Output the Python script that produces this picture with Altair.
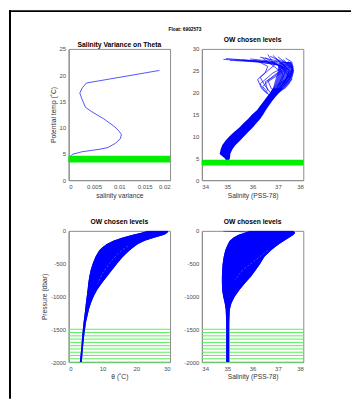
import altair as alt
import pandas as pd

FONT = "Liberation Sans"
BLUE = "#0000ff"
BOX = "#8c8c8c"
LABEL = "#4d4d4d"
GREEN = "#00ee00"
LGREEN = "#5cee5c"

float_title = "Float: 6902573"
tl_title = "Salinity Variance on Theta"

# --- top-left: salinity variance on theta
var_theta = [20.9, 18.5, 17.6, 16.6, 15.5, 13.9, 13.0, 11.7, 10.3, 9.5, 8.7, 7.9, 7.0, 6.2, 5.9, 5.4, 4.9, 4.4]
var_value = [0.0179, 0.0035, 0.0027, 0.0022, 0.0026, 0.0033, 0.0046, 0.0069, 0.0089, 0.0098,
             0.0104, 0.0102, 0.0092, 0.0077, 0.0062, 0.0026, 0.0007, 0.0002]

# chosen levels
green_theta = [3.5, 3.6, 3.7, 3.8, 3.9, 4.0, 4.1, 4.2, 4.3, 4.4, 4.5]
green_pres = [-1500, -1550, -1600, -1650, -1700, -1750, -1800, -1850, -1900, -1950, -2000]

# --- top-right: theta-S envelope of the profiles (lower part)
ts_theta = [3.4, 4.5, 5.0, 6.0, 7.0, 8.0, 9.0, 10.0, 11.0, 12.0, 13.0, 14.0, 15.0, 16.0, 17.0, 18.0, 19.0, 20.0, 21.0]
ts_smin = [34.97, 34.96, 34.9, 34.7, 34.74, 34.8, 34.93, 35.08, 35.27, 35.47, 35.64, 35.82, 35.98, 36.17, 36.3, 36.43, 36.56, 36.69, 36.8]
ts_smax = [35.03, 35.06, 35.11, 35.12, 35.2, 35.32, 35.5, 35.66, 35.83, 36.0, 36.15, 36.3, 36.42, 36.52, 36.64, 36.76, 36.9, 37.05, 37.2]

core_theta = [20.0, 21.0, 22.0, 23.0, 24.0, 25.0, 26.0, 27.0]
core_smin = [36.7, 36.8, 36.85, 36.9, 36.95, 37.0, 37.0, 37.1]
core_smax = [37.05, 37.3, 37.45, 37.55, 37.6, 37.6, 37.58, 37.5]

# upper warm-water profiles (salinity, theta)
fan_s = [
    [34.85, 35.6, 36.5, 37.0, 37.2, 37.0, 36.8],
    [34.95, 36.0, 36.9, 37.3, 37.1, 36.85],
    [35.3, 36.3, 37.1, 37.4, 37.2, 36.9],
    [35.9, 36.7, 37.5, 37.6, 37.3, 36.95],
    [36.6, 36.8, 37.2, 37.55, 37.2, 36.9],
    [36.7, 37.0, 37.5, 37.62, 37.4, 37.0],
    [36.5, 36.9, 36.6, 36.3, 36.5, 36.7],
    [36.9, 37.3, 36.8, 36.3, 36.45, 36.65],
    [37.2, 37.5, 37.0, 36.6, 36.4, 36.6],
    [37.4, 37.6, 37.3, 36.9, 36.75],
    [37.5, 37.6, 37.5, 37.2, 36.9],
    [36.2, 36.6, 36.5, 36.2, 36.35, 36.6],
    [36.8, 37.1, 37.45, 37.3, 37.05, 36.8],
    [37.0, 37.3, 37.55, 37.4, 37.1, 36.9],
    [36.4, 36.8, 37.1, 36.8, 36.5, 36.6],
    [37.3, 37.55, 37.6, 37.5, 37.25, 37.0],
    [35.1, 36.2, 37.0, 37.45, 37.35, 37.0],
    [35.6, 36.5, 37.2, 37.5, 37.1, 36.8],
    [36.3, 37.0, 37.35, 36.9, 36.6, 36.75],
    [36.0, 36.9, 37.4, 37.58, 37.45, 37.1],
]
fan_t = [
    [27.6, 27.4, 27.1, 26.5, 24.0, 21.5, 20.0],
    [27.8, 27.3, 26.8, 25.0, 22.0, 20.0],
    [27.5, 27.0, 26.2, 24.0, 21.5, 20.0],
    [27.7, 27.2, 26.8, 24.5, 22.0, 20.0],
    [28.7, 27.0, 25.5, 23.0, 21.0, 19.8],
    [28.3, 27.5, 26.5, 25.0, 22.5, 20.5],
    [28.0, 26.5, 25.0, 23.5, 21.5, 20.0],
    [27.8, 26.0, 24.5, 22.0, 20.5, 19.5],
    [27.6, 26.0, 24.0, 22.5, 21.4, 20.0],
    [27.2, 25.5, 23.0, 21.5, 20.0],
    [27.0, 26.0, 24.0, 22.0, 20.2],
    [27.2, 26.0, 24.6, 23.0, 21.0, 19.7],
    [28.5, 27.0, 25.0, 23.0, 21.0, 19.8],
    [28.2, 26.8, 25.5, 23.5, 21.5, 20.0],
    [27.9, 26.2, 24.8, 23.5, 22.5, 20.5],
    [27.9, 27.0, 25.0, 23.5, 21.8, 20.3],
    [27.4, 27.0, 26.4, 25.2, 23.0, 20.6],
    [27.5, 27.1, 26.0, 24.0, 22.0, 20.1],
    [28.1, 27.2, 25.8, 24.2, 22.8, 20.8],
    [27.3, 26.9, 26.2, 25.6, 23.2, 20.9],
]

# --- bottom-left: theta vs pressure envelope
bl_pres = [0, -30, -60, -100, -150, -200, -250, -300, -400, -500, -600, -700, -800, -900, -1000,
           -1100, -1200, -1400, -1600, -1800, -2000]
bl_tmin = [23.5, 21.5, 19.0, 16.0, 13.2, 11.3, 10.0, 9.0, 7.9, 7.1, 6.5, 6.1, 5.8, 5.6, 5.35,
           5.1, 4.9, 4.4, 4.0, 3.7, 3.3]
bl_tmax = [29.5, 29.2, 28.3, 25.5, 22.5, 20.5, 19.2, 18.0, 16.0, 14.3, 12.8, 11.3, 9.8, 8.4, 7.4,
           6.6, 6.0, 5.1, 4.6, 4.2, 3.9]
streak_bl_t = [17.5, 14.5, 12.0, 10.0, 8.6]
streak_bl_p = [-230, -350, -500, -650, -800]

# --- bottom-right: salinity vs pressure envelope
br_pres = [0, -30, -60, -100, -150, -200, -250, -300, -400, -500, -600, -700, -800, -900, -1000,
           -1100, -1200, -1400, -1600, -2000]
br_smin = [35.9, 35.7, 35.45, 35.25, 35.1, 35.03, 34.97, 34.92, 34.86, 34.82, 34.8, 34.79, 34.79,
           34.8, 34.84, 34.9, 34.94, 34.96, 34.96, 34.96]
br_smax = [37.6, 37.68, 37.62, 37.45, 37.25, 37.05, 36.88, 36.72, 36.46, 36.3, 36.12, 35.93, 35.7,
           35.48, 35.3, 35.17, 35.1, 35.08, 35.08, 35.08]
fresh_s = [34.85, 35.4, 35.95]
fresh_p = [-3, -10, -22]
streak_br_s = [36.6, 36.1, 35.6, 35.3]
streak_br_p = [-300, -450, -600, -750]

# ticks
x_var_ticks = [0, 0.005, 0.01, 0.015, 0.02]
y_tl_ticks = [0, 5, 10, 15, 20, 25]
x_sal_ticks = [34, 35, 36, 37, 38]
y_tr_ticks = [0, 5, 10, 15, 20, 25, 30]
x_th_ticks = [0, 10, 20, 30]
y_p_ticks = [-2000, -1500, -1000, -500, 0]

W, H = 102, 132


def xaxis(vals, title):
    return alt.Axis(values=vals, title=title, format="~r", labelOverlap=False)


def qx(field, dom, vals, title):
    return alt.X(field, type="quantitative",
                 scale=alt.Scale(domain=dom, nice=False, zero=False), axis=xaxis(vals, title))


def dx(value, dom, vals, title):
    return alt.X(datum=value, type="quantitative",
                 scale=alt.Scale(domain=dom, nice=False, zero=False), axis=xaxis(vals, title))


def qy(field, dom, vals, title, pres=False):
    if pres:
        ax = alt.Axis(values=vals, title=title, labelExpr="'' + datum.value", labelOverlap=False)
    else:
        ax = alt.Axis(values=vals, title=title, format="~r", labelOverlap=False)
    return alt.Y(field, type="quantitative",
                 scale=alt.Scale(domain=dom, nice=False, zero=False), axis=ax)


def ptitle(text):
    return alt.TitleParams(text, font=FONT, fontSize=6.8, fontWeight="bold",
                           color="black", anchor="middle", offset=2)


# ---------- data frames
df_var = pd.DataFrame({"v": var_value, "t": var_theta, "i": range(len(var_value))})
df_gt = pd.DataFrame({"t": green_theta})
df_gp = pd.DataFrame({"p": green_pres})
df_ts = pd.DataFrame({"t": ts_theta, "s1": ts_smin, "s2": ts_smax})
df_core = pd.DataFrame({"t": core_theta, "s1": core_smin, "s2": core_smax})
rows = []
for k, (ss, tt) in enumerate(zip(fan_s, fan_t)):
    for j, (s, t) in enumerate(zip(ss, tt)):
        rows.append({"pid": k, "i": j, "s": s, "t": t})
df_fan = pd.DataFrame(rows)
df_bl = pd.DataFrame({"p": bl_pres, "t1": bl_tmin, "t2": bl_tmax})
df_br = pd.DataFrame({"p": br_pres, "s1": br_smin, "s2": br_smax})
df_fresh = pd.DataFrame({"s": fresh_s, "p": fresh_p, "i": range(len(fresh_s))})
df_sbl = pd.DataFrame({"t": streak_bl_t, "p": streak_bl_p, "i": range(len(streak_bl_t))})
df_sbr = pd.DataFrame({"s": streak_br_s, "p": streak_br_p, "i": range(len(streak_br_s))})
one = pd.DataFrame({"a": [0], "label": [float_title], "tl": [tl_title]})

# ---------- figure frame + suptitle + first panel title (drawn from the first panel)
frame_top = alt.Chart(one).mark_rect(color="black").encode(
    x=alt.value(-60), x2=alt.value(284), y=alt.value(-39), y2=alt.value(-37))
frame_left = alt.Chart(one).mark_rect(color="black").encode(
    x=alt.value(-60), x2=alt.value(-58), y=alt.value(-39), y2=alt.value(352))
sup = alt.Chart(one).mark_text(font=FONT, fontSize=4.8, fontWeight="bold", color="black").encode(
    text="label:N", x=alt.value(117), y=alt.value(-19))
tl_ttl = alt.Chart(one).mark_text(font=FONT, fontSize=6.8, fontWeight="bold", color="black",
                                  baseline="alphabetic").encode(
    text="tl:N", x=alt.value(W / 2), y=alt.value(-2))

# ---------- TL
XV = qx("v", [0, 0.02], x_var_ticks, "salinity variance")
YT1 = qy("t", [0, 25], y_tl_ticks, "Potential temp (˚C)")
tl_line = alt.Chart(df_var).mark_line(color="#2a2aff", strokeWidth=0.8, clip=True).encode(
    x=XV, y=YT1, order="i:Q")
tl_green = alt.Chart(df_gt).mark_rule(color=GREEN, strokeWidth=1.3).encode(
    y=YT1, x=dx(0, [0, 0.02], x_var_ticks, "salinity variance"), x2=alt.X2(datum=0.02))
TL = alt.layer(tl_line, tl_green, frame_top, frame_left, sup, tl_ttl).properties(
    width=W, height=H)

# ---------- TR
XS = qx("s", [34, 38], x_sal_ticks, "Salinity (PSS-78)")
XS1 = qx("s1", [34, 38], x_sal_ticks, "Salinity (PSS-78)")
YT2 = qy("t", [0, 30], y_tr_ticks, "")
tr_band = alt.Chart(df_ts).mark_area(color=BLUE, orient="horizontal", clip=True).encode(
    y=YT2, x=XS1, x2="s2:Q")
tr_core = alt.Chart(df_core).mark_area(color=BLUE, orient="horizontal", opacity=0.7, clip=True).encode(
    y=YT2, x=XS1, x2="s2:Q")
tr_fan = alt.Chart(df_fan).mark_line(color=BLUE, strokeWidth=0.7, clip=True).encode(
    x=XS, y=YT2, detail="pid:N", order="i:Q")
tr_green = alt.Chart(df_gt).mark_rule(color=GREEN, strokeWidth=1.3).encode(
    y=YT2, x=dx(34, [34, 38], x_sal_ticks, "Salinity (PSS-78)"), x2=alt.X2(datum=38))
TR = alt.layer(tr_band, tr_core, tr_fan, tr_green).properties(
    width=W, height=H, title=ptitle("OW chosen levels"))

# ---------- BL
XT1 = qx("t1", [0, 30], x_th_ticks, "θ (˚C)")
XT = qx("t", [0, 30], x_th_ticks, "θ (˚C)")
YP = qy("p", [-2000, 0], y_p_ticks, "Pressure (dbar)", pres=True)
YP2 = qy("p", [-2000, 0], y_p_ticks, "", pres=True)
bl_band = alt.Chart(df_bl).mark_area(color=BLUE, orient="horizontal", clip=True).encode(
    y=YP, x=XT1, x2="t2:Q")
bl_green = alt.Chart(df_gp).mark_rule(color=LGREEN, strokeWidth=1).encode(
    y=YP, x=dx(0, [0, 30], x_th_ticks, "θ (˚C)"), x2=alt.X2(datum=30))
bl_band_top = alt.Chart(df_bl).mark_area(color=BLUE, orient="horizontal", clip=True).encode(
    y=YP, x=XT1, x2="t2:Q")
bl_streak = alt.Chart(df_sbl).mark_line(color="white", strokeWidth=0.6, opacity=0.45,
                                        strokeDash=[2, 2], clip=True).encode(
    x=XT, y=YP, order="i:Q")
BL = alt.layer(bl_band, bl_green, bl_band_top, bl_streak).properties(
    width=W, height=H, title=ptitle("OW chosen levels"))

# ---------- BR
br_band = alt.Chart(df_br).mark_area(color=BLUE, orient="horizontal", clip=True).encode(
    y=YP2, x=XS1, x2="s2:Q")
br_green = alt.Chart(df_gp).mark_rule(color=LGREEN, strokeWidth=1).encode(
    y=YP2, x=dx(34, [34, 38], x_sal_ticks, "Salinity (PSS-78)"), x2=alt.X2(datum=38))
br_band_top = alt.Chart(df_br).mark_area(color=BLUE, orient="horizontal", clip=True).encode(
    y=YP2, x=XS1, x2="s2:Q")
br_fresh = alt.Chart(df_fresh).mark_line(color=BLUE, strokeWidth=0.7, clip=True).encode(
    x=XS, y=YP2, order="i:Q")
br_streak = alt.Chart(df_sbr).mark_line(color="white", strokeWidth=0.6, opacity=0.45,
                                        strokeDash=[2, 2], clip=True).encode(
    x=XS, y=YP2, order="i:Q")
BR = alt.layer(br_band, br_green, br_band_top, br_fresh, br_streak).properties(
    width=W, height=H, title=ptitle("OW chosen levels"))

chart = alt.concat(TL, TR, BL, BR, columns=2, spacing={"row": 51, "column": 32},
                   bounds="flush").properties(
    padding={"left": 0, "top": 0, "right": 0, "bottom": 0}
).configure_view(stroke=BOX, strokeWidth=1).configure_axis(
    labelFont=FONT, labelFontSize=6, labelColor=LABEL, labelPadding=3, labelOverlap=False,
    titleFont=FONT, titleFontSize=6.7, titleFontWeight="normal", titleColor="#333333",
    titlePadding=3, domainColor=BOX, domainWidth=1, ticks=False, grid=False
)

chart.save("out.html", embed_options={"renderer": "svg", "actions": False})
